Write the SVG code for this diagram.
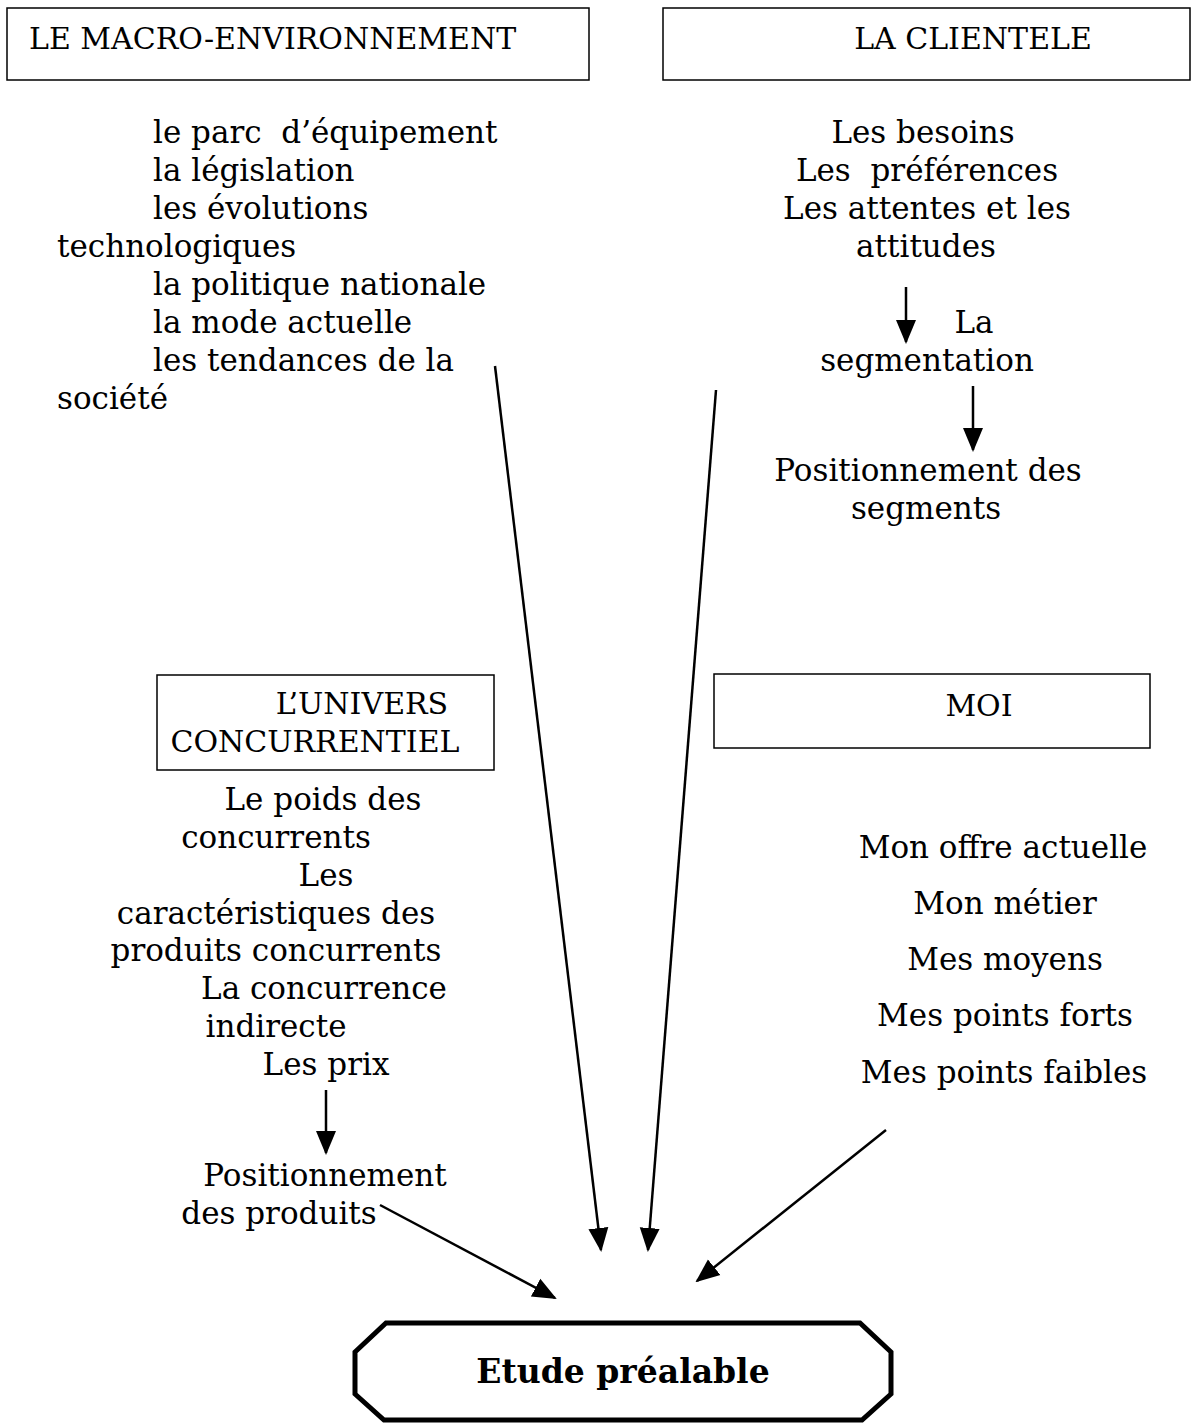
<svg xmlns="http://www.w3.org/2000/svg" width="1195" height="1425" viewBox="0 0 1195 1425">
<defs>
<style>
.t{font-family:"DejaVu Serif","Liberation Serif",serif;font-size:31px;fill:#000}
.h{font-family:"DejaVu Serif","Liberation Serif",serif;font-size:30px;fill:#000}
.c{text-anchor:middle}
.box{fill:none;stroke:#000;stroke-width:1.5}
.ln{stroke:#000;stroke-width:2.5;fill:none}
.b{font-family:"DejaVu Serif","Liberation Serif",serif;font-size:33px;font-weight:bold;fill:#000}
</style>
<marker id="ah" markerUnits="userSpaceOnUse" markerWidth="24" markerHeight="24" viewBox="0 0 24 24" refX="22" refY="12" orient="auto">
<path d="M0,2 L24,12 L0,22 Z" fill="#000"/>
</marker>
</defs>
<rect width="1195" height="1425" fill="#fff"/>
<g id="macro">
<rect class="box" x="7" y="8" width="582" height="72"/>
<text class="h" x="29" y="49">LE MACRO-ENVIRONNEMENT</text>
<text class="t" x="153" y="143" xml:space="preserve">le parc  d’équipement</text>
<text class="t" x="153" y="181">la législation</text>
<text class="t" x="153" y="219">les évolutions</text>
<text class="t" x="57" y="257">technologiques</text>
<text class="t" x="153" y="295">la politique nationale</text>
<text class="t" x="153" y="333">la mode actuelle</text>
<text class="t" x="153" y="371">les tendances de la</text>
<text class="t" x="57" y="409">société</text>
</g>
<g id="clientele">
<rect class="box" x="663" y="8" width="527" height="72"/>
<text class="h c" x="973" y="49">LA CLIENTELE</text>
<text class="t c" x="923" y="143">Les besoins</text>
<text class="t c" x="927" y="181" xml:space="preserve">Les  préférences</text>
<text class="t c" x="927" y="219">Les attentes et les</text>
<text class="t c" x="926" y="257">attitudes</text>
<text class="t c" x="974" y="333">La</text>
<text class="t c" x="927" y="371">segmentation</text>
<text class="t c" x="928" y="481">Positionnement des</text>
<text class="t c" x="926" y="519">segments</text>
</g>
<g id="univers">
<rect class="box" x="157" y="675" width="337" height="95"/>
<text class="h c" x="362" y="714">L’UNIVERS</text>
<text class="h c" x="315" y="752">CONCURRENTIEL</text>
<text class="t c" x="323" y="810">Le poids des</text>
<text class="t c" x="276" y="848">concurrents</text>
<text class="t c" x="326" y="886">Les</text>
<text class="t c" x="276" y="924">caractéristiques des</text>
<text class="t c" x="276" y="961">produits concurrents</text>
<text class="t c" x="324" y="999">La concurrence</text>
<text class="t c" x="276" y="1037">indirecte</text>
<text class="t c" x="326" y="1075">Les prix</text>
<text class="t c" x="325" y="1186">Positionnement</text>
<text class="t c" x="279" y="1224">des produits</text>
</g>
<g id="moi">
<rect class="box" x="714" y="674" width="436" height="74"/>
<text class="h c" x="979" y="716">MOI</text>
<text class="t c" x="1003" y="858">Mon offre actuelle</text>
<text class="t c" x="1005" y="914">Mon métier</text>
<text class="t c" x="1005" y="970">Mes moyens</text>
<text class="t c" x="1005" y="1026">Mes points forts</text>
<text class="t c" x="1004" y="1083">Mes points faibles</text>
</g>
<g id="etude">
<path d="M386,1323 L860,1323 L891,1352 L891,1394 L862,1420 L384,1420 L355,1394 L355,1352 Z" fill="none" stroke="#000" stroke-width="5"/>
<text class="b c" x="623" y="1383">Etude préalable</text>
</g>
<g id="connectors">
<line class="ln" x1="906" y1="287" x2="906" y2="342" marker-end="url(#ah)"/>
<line class="ln" x1="973" y1="386" x2="973" y2="450" marker-end="url(#ah)"/>
<line class="ln" x1="495" y1="366" x2="601" y2="1250" marker-end="url(#ah)"/>
<line class="ln" x1="716" y1="390" x2="648" y2="1250" marker-end="url(#ah)"/>
<line class="ln" x1="326" y1="1090" x2="326" y2="1153" marker-end="url(#ah)"/>
<line class="ln" x1="380" y1="1205" x2="555" y2="1298" marker-end="url(#ah)"/>
<line class="ln" x1="886" y1="1130" x2="697" y2="1281" marker-end="url(#ah)"/>
</g>
</svg>
